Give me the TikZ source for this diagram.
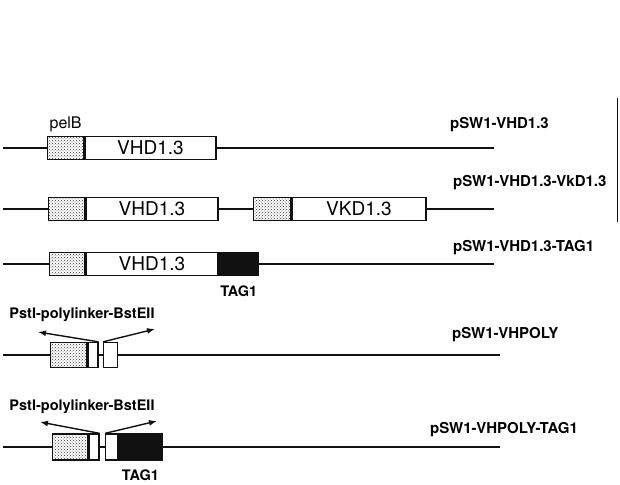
\documentclass[tikz,border=0pt]{standalone}
\usepackage{fontspec}
\setmainfont{TeX Gyre Heros}
\usetikzlibrary{arrows.meta,positioning,patterns}
\definecolor{Ink}{HTML}{111111}
\tikzset{
  backbone/.style={line width=1.5pt,draw=Ink},
  segbox/.style={draw=Ink,line width=1.3pt,inner sep=0pt,minimum height=23pt,anchor=west},
  leader/.style={segbox,minimum width=36pt,pattern=crosshatch dots,pattern color=Ink!85},
  gene/.style={segbox,fill=white,font=\fontsize{19}{21}\selectfont},
  tagbox/.style={segbox,fill=Ink},
  linkbox/.style={segbox,fill=white},
  sitearrow/.style={-{Latex[length=8pt,width=6pt]},line width=1.4pt,draw=Ink},
  plasmid/.style={anchor=west,inner sep=0pt,font=\fontsize{15}{17}\selectfont\bfseries},
  sitelabel/.style={inner sep=1pt,font=\fontsize{14.5}{16}\selectfont\bfseries},
}

\begin{document}
\begin{tikzpicture}[x=1pt,y=1pt]
    \useasboundingbox (0,0) rectangle (620,484);

    \coordinate (a0) at (3,336);
    \node[leader] (a1) at (47,336) {};
    \node[gene,minimum width=131pt,right=0pt of a1] (a2) {VHD1.3};
    \coordinate (a3) at (494,336);
    \draw[backbone] (a0) -- (a1.west) (a2.east) -- (a3);
    \node[inner sep=1pt,font=\fontsize{16}{18}\selectfont,above=3pt of a1] (a4) {pelB};
    \node[plasmid] (a5) at (450,359) {pSW1-VHD1.3};

    \coordinate (b0) at (3,275);
    \node[leader] (b1) at (48,275) {};
    \node[gene,minimum width=132pt,right=0pt of b1] (b2) {VHD1.3};
    \node[leader,minimum width=37pt] (b3) at (253,275) {};
    \node[gene,minimum width=134pt,right=0pt of b3] (b4) {VKD1.3};
    \coordinate (b5) at (494,275);
    \draw[backbone] (b0) -- (b1.west) (b2.east) -- (b3.west) (b4.east) -- (b5);
    \node[plasmid] (b6) at (453,301) {pSW1-VHD1.3-VkD1.3};

    \coordinate (c0) at (3,220);
    \node[leader,minimum width=35pt] (c1) at (49,220) {};
    \node[gene,minimum width=132pt,right=0pt of c1] (c2) {VHD1.3};
    \node[tagbox,minimum width=39pt,right=0pt of c2] (c3) {};
    \coordinate (c4) at (494,220);
    \draw[backbone] (c0) -- (c1.west) (c3.east) -- (c4);
    \node[sitelabel,below=8pt of c3] (c5) {TAG1};
    \node[plasmid] (c6) at (453,236) {pSW1-VHD1.3-TAG1};

    \coordinate (d0) at (3,129);
    \node[leader,minimum height=25pt] (d1) at (50,129) {};
    \node[linkbox,minimum width=10pt,minimum height=25pt,right=0pt of d1] (d2) {};
    \node[linkbox,minimum width=14pt,minimum height=25pt] (d3) at (103,129) {};
    \coordinate (d4) at (500,129);
    \draw[backbone] (d0) -- (d1.west) (d2.east) -- (d3.west) (d3.east) -- (d4);
    \node[sitelabel] (d5) at (82,169) {PstI-polylinker-BstEII};
    \coordinate (d6) at (38,152);
    \coordinate (d7) at (155,155);
    \draw[sitearrow] (d2.north east) -- (d6);
    \draw[sitearrow] (d3.north west) -- (d7);
    \node[plasmid] (d8) at (452,149) {pSW1-VHPOLY};

    \coordinate (e0) at (3,37);
    \node[leader,minimum width=35pt,minimum height=26pt] (e1) at (52,37) {};
    \node[linkbox,minimum width=10pt,minimum height=26pt,right=0pt of e1] (e2) {};
    \node[linkbox,minimum width=12pt,minimum height=26pt] (e3) at (105,37) {};
    \node[tagbox,minimum width=43pt,minimum height=26pt,right=0pt of e3] (e4) {};
    \coordinate (e5) at (500,37);
    \draw[backbone] (e0) -- (e1.west) (e2.east) -- (e3.west) (e4.east) -- (e5);
    \node[sitelabel,below=8pt of e4] (e6) {TAG1};
    \node[sitelabel] (e7) at (82,77) {PstI-polylinker-BstEII};
    \coordinate (e8) at (40,62);
    \coordinate (e9) at (157,63);
    \draw[sitearrow] (e2.north east) -- (e8);
    \draw[sitearrow] (e3.north west) -- (e9);
    \node[plasmid] (e10) at (430,54) {pSW1-VHPOLY-TAG1};

    \draw[line width=0.8pt,draw=Ink] (617,386) -- (617,262);
  \end{tikzpicture}
\end{document}
